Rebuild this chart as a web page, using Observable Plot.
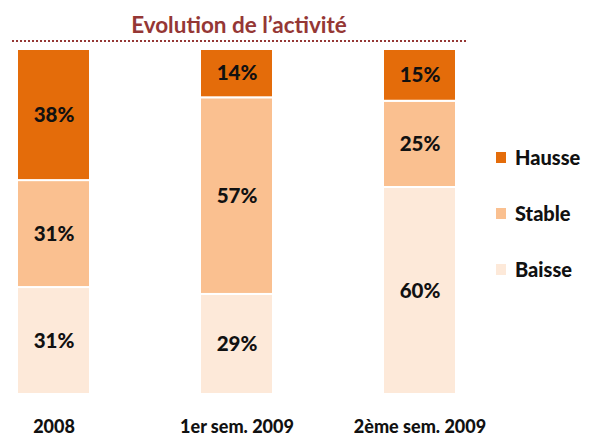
<!DOCTYPE html>
<html><head><meta charset="utf-8">
<script src="https://cdn.jsdelivr.net/npm/d3@7"></script>
<script src="https://cdn.jsdelivr.net/npm/@observablehq/plot@0.6"></script>
<style>
body{margin:0;background:#fff;font-family:Lato,"Open Sans",sans-serif;}
#wrap{position:relative;width:599px;height:437px;}
#title{position:absolute;left:12px;top:0;width:454px;height:40px;border-bottom:2px dotted #953735;text-align:center;color:#953735;font-weight:bold;font-size:22.5px;line-height:50px;box-sizing:content-box;}
#plot{position:absolute;left:0;top:44px;}
#legend{position:absolute;left:496px;top:0;}
.item{position:absolute;left:0;white-space:nowrap;font-weight:900;font-size:20px;color:#111;}
.sw{display:inline-block;width:10px;height:11px;margin-right:9px;vertical-align:middle;position:relative;top:-2px;}
</style></head>
<body><div id="wrap"><div id="title">Evolution de l’activité</div><div id="plot"></div><div id="legend"></div></div>
<script>
const periods = ["2008", "1er sem. 2009", "2ème sem. 2009"];
const categories = ["Baisse", "Stable", "Hausse"];
const baisse = [31, 29, 60];
const stable = [31, 57, 25];
const hausse = [38, 14, 15];
const colors = ["#FDE9D9", "#FAC090", "#E46C0A"];
const legendOrder = ["Hausse", "Stable", "Baisse"];

const series = [baisse, stable, hausse];
const data = [];
periods.forEach((p, i) => categories.forEach((c, j) => data.push({period: p, cat: c, value: series[j][i]})));

const chart = Plot.plot({
  width: 599, height: 393,
  marginLeft: 17, marginRight: 142, marginTop: 5, marginBottom: 43,
  style: {fontFamily: "Lato, 'Open Sans', sans-serif", background: "white"},
  x: {domain: periods, paddingInner: 0.6, paddingOuter: 0, axis: null},
  y: {domain: [0, 100], axis: null},
  color: {domain: categories, range: colors},
  marks: [
    Plot.barY(data, {x: "period", y: "value", z: "cat", fill: "cat", order: categories, stroke: "white", strokeWidth: 2}),
    Plot.text(data, Plot.stackY({x: "period", y: "value", z: "cat", order: categories, text: d => d.value + "%", fontSize: 20.5, fontWeight: 900, fill: "#111"})),
    Plot.axisX({domain: periods, tickSize: 0, tickPadding: 26, fontSize: 18, fontWeight: 900, fill: "#111", label: null})
  ]
});
document.getElementById("plot").appendChild(chart);

const leg = document.getElementById("legend");
const ys = [145, 201, 257];
legendOrder.forEach((c, i) => {
  const d = document.createElement("div");
  d.className = "item";
  d.style.top = ys[i] + "px";
  d.innerHTML = `<span class="sw" style="background:${colors[categories.indexOf(c)]}"></span>${c}`;
  leg.appendChild(d);
});
</script></body></html>
